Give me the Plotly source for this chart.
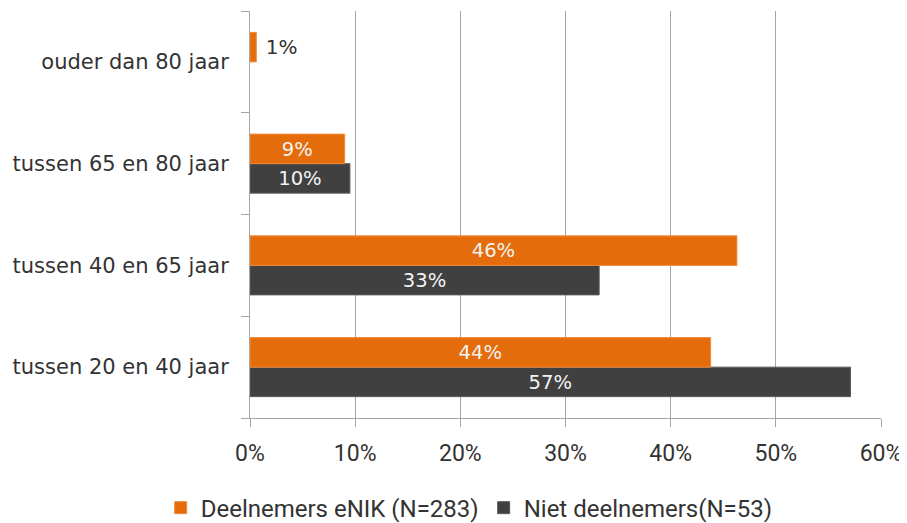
import plotly.graph_objects as go

categories = ["tussen 20 en 40 jaar", "tussen 40 en 65 jaar", "tussen 65 en 80 jaar", "ouder dan 80 jaar"]
deelnemers = [43.8, 46.3, 9.0, 0.6]
deelnemers_labels = ["44%", "46%", "9%", " 1%"]
niet_deelnemers = [57.1, 33.2, 9.5, None]
niet_deelnemers_labels = ["57%", "33%", "10%", ""]
x_ticks = [0, 10, 20, 30, 40, 50, 60]

cat_font = "DejaVu Sans"
tick_font = "Roboto"
orange = "#E46C0A"
dark = "#404040"

fig = go.Figure()
# dark series first so it sits below the orange one inside each group
fig.add_trace(go.Bar(y=categories, x=niet_deelnemers, orientation="h", name="Niet deelnemers(N=53)",
                     marker=dict(color=dark, line=dict(color="#5a5a5a", width=1)),
                     text=niet_deelnemers_labels, textposition="auto", textangle=0,
                     insidetextanchor="middle", legendrank=2,
                     insidetextfont=dict(color="#f2f2f2", size=20, family=cat_font),
                     outsidetextfont=dict(color="#333333", size=20, family=cat_font)))
fig.add_trace(go.Bar(y=categories, x=deelnemers, orientation="h", name="Deelnemers eNIK (N=283)",
                     marker=dict(color=orange, line=dict(color="#f08a3a", width=1)),
                     text=deelnemers_labels, textposition="auto", textangle=0,
                     insidetextanchor="middle", legendrank=1,
                     insidetextfont=dict(color="#f2f2f2", size=20, family=cat_font),
                     outsidetextfont=dict(color="#333333", size=20, family=cat_font)))

fig.update_xaxes(range=[0, 60], tickvals=x_ticks, ticktext=[f"{v}%" for v in x_ticks],
                 showgrid=True, gridcolor="#a6a6a6", gridwidth=1,
                 showline=True, linecolor="#a6a6a6",
                 ticks="outside", ticklen=8, tickcolor="#a6a6a6",
                 tickfont=dict(size=23, color="#333333", family=tick_font),
                 ticklabelstandoff=6, zeroline=False, automargin=False)
fig.update_yaxes(categoryorder="array", categoryarray=categories,
                 showline=True, linecolor="#a6a6a6", tickson="boundaries",
                 ticks="outside", ticklen=8, tickcolor="#a6a6a6",
                 tickfont=dict(size=21, color="#333333", family=cat_font),
                 ticklabelstandoff=16, showgrid=False, automargin=False)

# the page body adds an 8px margin, so the figure is a bit smaller than the window
fig.update_layout(width=899, height=515, barmode="group", bargap=0.42, bargroupgap=0,
                  margin=dict(l=242, r=26, t=3, b=105, autoexpand=False),
                  plot_bgcolor="white", paper_bgcolor="white",
                  font=dict(family=cat_font, size=18, color="#333333"),
                  legend=dict(orientation="h", xref="container", yref="container",
                              x=0.513, y=0.029, xanchor="center", yanchor="middle",
                              font=dict(size=24, color="#333333", family=tick_font),
                              itemwidth=30))
fig.write_html("out.html")
